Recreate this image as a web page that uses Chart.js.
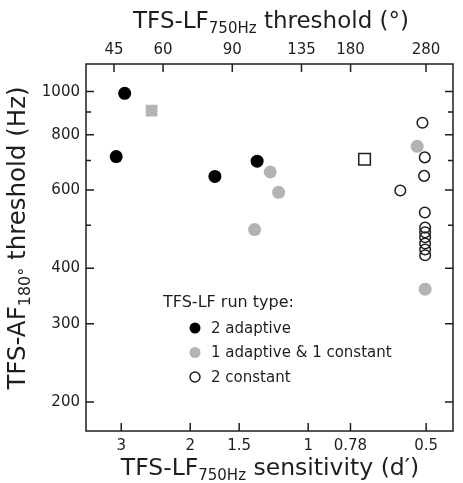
<!DOCTYPE html>
<html>
<head>
<meta charset="utf-8">
<script src="https://cdn.jsdelivr.net/npm/chart.js@4.4.0/dist/chart.umd.min.js"></script>
<style>
  body { margin: 0; background: #fff; }
</style>
</head>
<body>
<canvas id="grafico" width="463" height="483"></canvas>
<script>
// ======== DADOS =========
const dprimeTicks = [3, 2, 1.5, 1, 0.78, 0.5];
const degreeTicks = [45, 60, 90, 135, 180, 280];
const hzTicks = [200, 300, 400, 600, 800, 1000];
const hzMinorTicks = [500, 700, 900];

// 2 adaptive
const blackX = [2.94, 3.09, 1.73, 1.35];
const blackY = [991, 714, 644, 697];
// 1 adaptive & 1 constant
const grayX = [1.25, 1.19, 1.37, 0.527, 0.503];
const grayY = [659, 593, 489, 753, 359];
const graySqX = [2.51];
const graySqY = [906];
// 2 constant
const openX = [0.582, 0.511, 0.504, 0.506, 0.504, 0.503, 0.503, 0.503, 0.503, 0.503, 0.503];
const openY = [599, 851, 711, 646, 534, 494, 482, 470, 455, 441, 428];
const openSqX = [0.718];
const openSqY = [704];

const FONT = '"DejaVu Sans", sans-serif';
const INK = '#1e1e1e';
const GRAY = '#b3b3b3';

function pts(xs, ys) {
  return xs.map((x, i) => ({ x: x, y: ys[i] }));
}

// texto com subscrito
function drawRich(ctx, parts, x, y) {
  let total = 0;
  parts.forEach(p => {
    ctx.font = p.size + 'px ' + FONT;
    p.w = ctx.measureText(p.t).width;
    total += p.w;
  });
  let cx = x - total / 2;
  parts.forEach(p => {
    ctx.font = p.size + 'px ' + FONT;
    ctx.fillText(p.t, cx, y + (p.dy || 0));
    cx += p.w;
  });
}

// ======== MOLDURA E TICKS =========
const molduraTicks = {
  id: 'molduraTicks',
  beforeDatasetsDraw(chart) {
    const { ctx, chartArea: a, scales } = chart;
    ctx.save();
    ctx.strokeStyle = INK;
    ctx.lineWidth = 1.5;
    ctx.strokeRect(a.left, a.top, a.right - a.left, a.bottom - a.top);
    ctx.beginPath();
    dprimeTicks.forEach(v => {
      const px = scales.x.getPixelForValue(v);
      ctx.moveTo(px, a.bottom); ctx.lineTo(px, a.bottom - 8);
    });
    degreeTicks.forEach(v => {
      const px = scales.x2.getPixelForValue(v);
      ctx.moveTo(px, a.top); ctx.lineTo(px, a.top + 8);
    });
    hzTicks.forEach(v => {
      const py = scales.y.getPixelForValue(v);
      ctx.moveTo(a.left, py); ctx.lineTo(a.left + 8, py);
      ctx.moveTo(a.right, py); ctx.lineTo(a.right - 8, py);
    });
    hzMinorTicks.forEach(v => {
      const py = scales.y.getPixelForValue(v);
      ctx.moveTo(a.left, py); ctx.lineTo(a.left + 5, py);
      ctx.moveTo(a.right, py); ctx.lineTo(a.right - 5, py);
    });
    ctx.stroke();
    ctx.restore();
  }
};

// ======== TÍTULOS E LEGENDA =========
const titulosLegenda = {
  id: 'titulosLegenda',
  afterDraw(chart) {
    const { ctx } = chart;
    ctx.save();
    ctx.fillStyle = INK;
    ctx.textBaseline = 'alphabetic';
    ctx.textAlign = 'left';
    drawRich(ctx, [
      { t: 'TFS-LF', size: 23 },
      { t: '750Hz', size: 15, dy: 5 },
      { t: ' threshold (°)', size: 23 }
    ], 271, 28);
    drawRich(ctx, [
      { t: 'TFS-LF', size: 23.5 },
      { t: '750Hz', size: 15, dy: 5 },
      { t: ' sensitivity (d′)', size: 23.5 }
    ], 270, 475);
    ctx.translate(25, 238);
    ctx.rotate(-Math.PI / 2);
    drawRich(ctx, [
      { t: 'TFS-AF', size: 24.5 },
      { t: '180°', size: 16, dy: 5 },
      { t: ' threshold (Hz)', size: 24.5 }
    ], 0, 0);
    ctx.restore();

    // legenda
    ctx.save();
    ctx.fillStyle = INK;
    ctx.textBaseline = 'middle';
    ctx.font = '16px ' + FONT;
    ctx.fillText('TFS-LF run type:', 163, 303);
    ctx.font = '15px ' + FONT;
    const itens = chart.data.datasets.filter(d => d.legendOrder !== undefined)
      .sort((a, b) => a.legendOrder - b.legendOrder);
    itens.forEach((d, i) => {
      const y = 328 + i * 24.5;
      ctx.beginPath();
      ctx.arc(195, y, d.legendRadius, 0, Math.PI * 2);
      ctx.fillStyle = d.backgroundColor;
      ctx.fill();
      if (d.borderWidth) {
        ctx.lineWidth = d.borderWidth;
        ctx.strokeStyle = d.borderColor;
        ctx.stroke();
      }
      ctx.fillStyle = INK;
      ctx.fillText(d.label, 211, y + 1);
    });
    ctx.restore();
  }
};

const tickFont = { family: FONT, size: 15 };

// ======== GRÁFICO =========
const ctxGrafico = document.getElementById('grafico');
new Chart(ctxGrafico, {
  type: 'scatter',
  data: {
    datasets: [
      {
        label: '2 constant',
        legendOrder: 2,
        legendRadius: 5,
        data: pts(openX, openY),
        pointStyle: 'circle',
        pointRadius: 5.3,
        borderWidth: 1.5,
        borderColor: INK,
        backgroundColor: 'rgba(0,0,0,0)'
      },
      {
        label: '2 constant (square)',
        data: pts(openSqX, openSqY),
        pointStyle: 'rect',
        pointRadius: 8.2,
        borderWidth: 1.5,
        borderColor: INK,
        backgroundColor: 'rgba(0,0,0,0)'
      },
      {
        label: '2 adaptive',
        legendOrder: 0,
        legendRadius: 5.5,
        data: pts(blackX, blackY),
        pointStyle: 'circle',
        pointRadius: 6.5,
        borderWidth: 0,
        backgroundColor: '#000'
      },
      {
        label: '1 adaptive & 1 constant',
        legendOrder: 1,
        legendRadius: 5.5,
        data: pts(grayX, grayY),
        pointStyle: 'circle',
        pointRadius: 6.5,
        borderWidth: 0,
        backgroundColor: GRAY
      },
      {
        label: '1 adaptive & 1 constant (square)',
        data: pts(graySqX, graySqY),
        pointStyle: 'rect',
        pointRadius: 8.3,
        borderWidth: 0,
        backgroundColor: GRAY
      }
    ]
  },
  options: {
    responsive: false,
    animation: false,
    events: [],
    layout: { padding: { left: 0, right: 10, top: 0, bottom: 0 } },
    plugins: {
      legend: { display: false },
      tooltip: { enabled: false }
    },
    scales: {
      x: {
        type: 'logarithmic',
        position: 'bottom',
        reverse: true,
        min: 0.427,
        max: 3.69,
        afterBuildTicks: s => { s.ticks = dprimeTicks.map(v => ({ value: v })); },
        afterFit: s => { s.height = 52; },
        grid: { display: false, drawTicks: false },
        border: { display: false },
        ticks: {
          padding: 6,
          color: INK,
          font: tickFont,
          maxRotation: 0,
          autoSkip: false,
          callback: v => String(v)
        }
      },
      x2: {
        type: 'logarithmic',
        position: 'top',
        min: 38.2,
        max: 328,
        afterBuildTicks: s => { s.ticks = degreeTicks.map(v => ({ value: v })); },
        afterFit: s => { s.height = 64; },
        grid: { display: false, drawTicks: false },
        border: { display: false },
        ticks: {
          padding: 5,
          color: INK,
          font: tickFont,
          maxRotation: 0,
          autoSkip: false,
          callback: v => String(v)
        }
      },
      y: {
        type: 'logarithmic',
        min: 172,
        max: 1154,
        afterBuildTicks: s => { s.ticks = hzTicks.map(v => ({ value: v })); },
        afterFit: s => { s.width = 86; },
        grid: { display: false, drawTicks: false },
        border: { display: false },
        ticks: {
          padding: 6,
          color: INK,
          font: tickFont,
          autoSkip: false,
          callback: v => String(v)
        }
      }
    }
  },
  plugins: [molduraTicks, titulosLegenda]
});
</script>
</body>
</html>
